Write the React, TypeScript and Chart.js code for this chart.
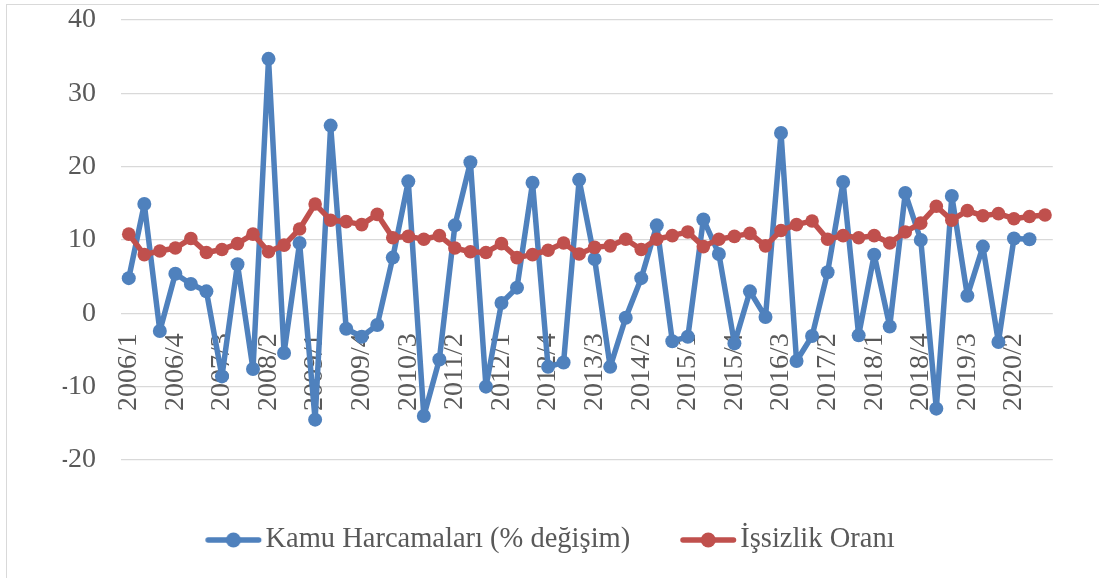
import React, { useEffect, useRef } from 'react';
import { Chart, registerables } from 'chart.js';

Chart.register(...registerables);

const quarters = [
  '2006/1', '2006/2', '2006/3', '2006/4', '2007/1', '2007/2', '2007/3', '2007/4',
  '2008/1', '2008/2', '2008/3', '2008/4', '2009/1', '2009/2', '2009/3', '2009/4',
  '2010/1', '2010/2', '2010/3', '2010/4', '2011/1', '2011/2', '2011/3', '2011/4',
  '2012/1', '2012/2', '2012/3', '2012/4', '2013/1', '2013/2', '2013/3', '2013/4',
  '2014/1', '2014/2', '2014/3', '2014/4', '2015/1', '2015/2', '2015/3', '2015/4',
  '2016/1', '2016/2', '2016/3', '2016/4', '2017/1', '2017/2', '2017/3', '2017/4',
  '2018/1', '2018/2', '2018/3', '2018/4', '2019/1', '2019/2', '2019/3', '2019/4',
  '2020/1', '2020/2', '2020/3', '2020/4',
];

const shownTicks = [
  '2006/1', '2006/4', '2007/3', '2008/2', '2009/1', '2009/4', '2010/3', '2011/2',
  '2012/1', '2012/4', '2013/3', '2014/2', '2015/1', '2015/4', '2016/3', '2017/2',
  '2018/1', '2018/4', '2019/3', '2020/2',
];

const kamuHarcamalari = [
  4.8, 14.9, -2.4, 5.4, 4.0, 3.0, -8.6, 6.7, -7.6, 34.7,
  -5.4, 9.6, -14.5, 25.6, -2.1, -3.2, -1.6, 7.6, 18.0, -14.0,
  -6.3, 12.0, 20.6, -10.0, 1.4, 3.5, 17.8, -7.3, -6.7, 18.2,
  7.4, -7.3, -0.6, 4.8, 12.0, -3.8, -3.2, 12.8, 8.1, -4.1,
  3.0, -0.5, 24.6, -6.5, -3.1, 5.6, 17.9, -3.0, 8.0, -1.8,
  16.4, 10.0, -13.0, 16.0, 2.4, 9.1, -3.9, 10.2, 10.1,
];

const issizlikOrani = [
  10.8, 8.0, 8.5, 8.9, 10.2, 8.3, 8.7, 9.5, 10.8, 8.4,
  9.3, 11.5, 14.9, 12.7, 12.5, 12.1, 13.5, 10.3, 10.5, 10.1,
  10.6, 8.9, 8.4, 8.3, 9.5, 7.6, 8.0, 8.6, 9.6, 8.1,
  9.0, 9.2, 10.1, 8.7, 10.1, 10.6, 11.1, 9.1, 10.1, 10.5,
  10.9, 9.2, 11.3, 12.1, 12.6, 10.1, 10.6, 10.3, 10.6, 9.6,
  11.1, 12.3, 14.6, 12.7, 14.0, 13.3, 13.6, 12.9, 13.2, 13.4,
];

const seriesNames = ['Kamu Harcamaları (% değişim)', 'İşsizlik Oranı'];

const Y_MIN = -20;
const Y_MAX = 40;
const Y_STEP = 10;

const BLUE = '#4F81BD';
const RED = '#C0504D';
const TEXT = '#595959';
const GRID = '#D9D9D9';
const FONT_FAMILY = "'Liberation Serif', 'Times New Roman', serif";

function legendMarker(color: string): HTMLCanvasElement {
  const c = document.createElement('canvas');
  c.width = 70;
  c.height = 20;
  const ctx = c.getContext('2d')!;
  ctx.strokeStyle = color;
  ctx.lineWidth = 5.5;
  ctx.lineCap = 'round';
  ctx.beginPath();
  ctx.moveTo(7, 10);
  ctx.lineTo(57.5, 10);
  ctx.stroke();
  ctx.fillStyle = color;
  ctx.beginPath();
  ctx.arc(32.25, 10, 7.5, 0, Math.PI * 2);
  ctx.fill();
  return c;
}

export default function App() {
  const canvasRef = useRef<HTMLCanvasElement | null>(null);

  useEffect(() => {
    if (!canvasRef.current) return;
    const markers = [legendMarker(BLUE), legendMarker(RED)];
    const chart = new Chart(canvasRef.current, {
      type: 'line',
      data: {
        labels: quarters,
        datasets: [
          {
            label: seriesNames[0],
            data: kamuHarcamalari,
            order: 1,
            borderColor: BLUE,
            backgroundColor: BLUE,
            borderWidth: 5.5,
            borderJoinStyle: 'round',
            borderCapStyle: 'round',
            pointRadius: 7,
            pointHoverRadius: 7,
            pointBackgroundColor: BLUE,
            pointBorderColor: BLUE,
            pointBorderWidth: 0,
            tension: 0,
            fill: false,
          },
          {
            label: seriesNames[1],
            data: issizlikOrani,
            order: 0,
            borderColor: RED,
            backgroundColor: RED,
            borderWidth: 5.5,
            borderJoinStyle: 'round',
            borderCapStyle: 'round',
            pointRadius: 6.8,
            pointHoverRadius: 6.8,
            pointBackgroundColor: RED,
            pointBorderColor: RED,
            pointBorderWidth: 0,
            tension: 0,
            fill: false,
          },
        ],
      },
      options: {
        responsive: false,
        animation: false,
        devicePixelRatio: 1,
        layout: { padding: { left: 62.7, right: 46, top: 20, bottom: 13.75 } },
        plugins: {
          tooltip: { enabled: false },
          legend: {
            position: 'bottom',
            labels: {
              usePointStyle: true,
              pointStyleWidth: 30,
              boxWidth: 30,
              padding: 65.75,
              color: TEXT,
              font: { family: FONT_FAMILY, size: 28.5 },
              sort: (a: any, b: any) => a.datasetIndex - b.datasetIndex,
              generateLabels: (ch: any) => {
                const items = (Chart as any).defaults.plugins.legend.labels.generateLabels(ch);
                items.forEach((it: any) => {
                  it.pointStyle = markers[it.datasetIndex];
                });
                return items;
              },
            },
          },
        },
        scales: {
          x: {
            type: 'category',
            offset: true,
            position: { y: 0 } as any,
            grid: { display: false, drawTicks: false },
            border: { display: false },
            ticks: {
              autoSkip: false,
              minRotation: 90,
              maxRotation: 90,
              padding: 20,
              color: TEXT,
              font: { family: FONT_FAMILY, size: 28 },
              callback: (_v: any, index: number) => {
                const l = quarters[index];
                return shownTicks.includes(l) ? l : '';
              },
            },
          },
          y: {
            min: Y_MIN,
            max: Y_MAX,
            afterFit: (s: any) => {
              s.width = 121 - 62.7;
            },
            grid: {
              color: GRID,
              lineWidth: 1.3,
              drawTicks: true,
              tickLength: 25,
              tickColor: 'rgba(0,0,0,0)',
            },
            border: { display: false },
            ticks: {
              stepSize: Y_STEP,
              padding: 0,
              color: TEXT,
              font: { family: FONT_FAMILY, size: 28 },
            },
          },
        },
      } as any,
    });
    return () => chart.destroy();
  }, []);

  return (
    <div
      style={{
        position: 'fixed',
        left: 0,
        top: 0,
        width: 1099,
        height: 578,
        overflow: 'hidden',
        background: '#FFFFFF',
      }}
    >
      <div
        style={{
          position: 'absolute',
          left: 6,
          top: 4,
          width: 1200,
          height: 700,
          border: '1px solid #D9D9D9',
          boxSizing: 'border-box',
        }}
      />
      <canvas
        ref={canvasRef}
        width={1099}
        height={578}
        style={{ position: 'absolute', left: 0, top: 0, width: 1099, height: 578 }}
      />
    </div>
  );
}
